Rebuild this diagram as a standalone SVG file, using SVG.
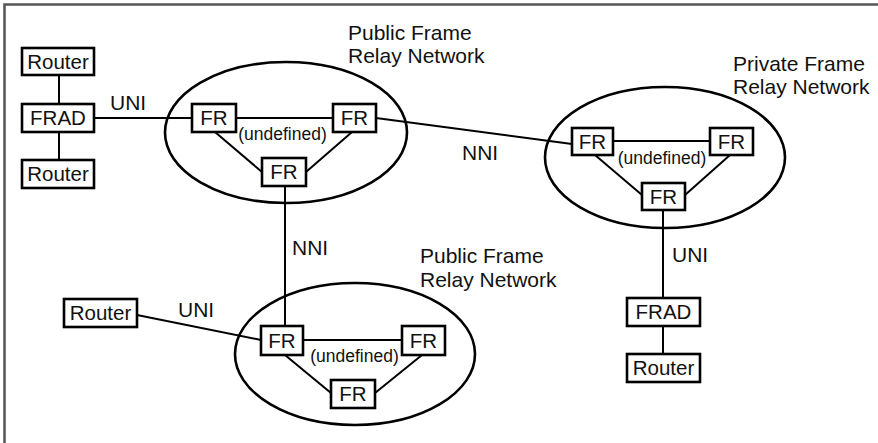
<svg xmlns="http://www.w3.org/2000/svg" width="878" height="443" viewBox="0 0 878 443">
  <style>
    .frame { fill: none; stroke: #555; stroke-width: 2.5; }
    .box { fill: #fff; stroke: #000; stroke-width: 2.6; }
    .cloud { fill: none; stroke: #000; stroke-width: 2.6; }
    .link { fill: none; stroke: #000; stroke-width: 2; }
    text { font-family: "Liberation Sans", Arial, sans-serif; fill: #111; }
    .lbl { font-size: 20.5px; text-anchor: middle; }
    .tag { font-size: 21px; }
    .undef { font-size: 17.5px; text-anchor: middle; }
  </style>
  <rect width="878" height="443" fill="#fff"/>
  <path class="frame" d="M4.5,443 V4.5 H878"/>

  <!-- network clouds -->
  <g id="net-public-top">
    <ellipse class="cloud" cx="286" cy="132.5" rx="121" ry="70.5"/>
    <text class="tag" x="348" y="40">Public Frame</text>
    <text class="tag" x="348" y="63">Relay Network</text>
  </g>
  <g id="net-private">
    <ellipse class="cloud" cx="665" cy="157.5" rx="120" ry="70.5"/>
    <text class="tag" x="733" y="71">Private Frame</text>
    <text class="tag" x="733" y="94">Relay Network</text>
  </g>
  <g id="net-public-bottom">
    <ellipse class="cloud" cx="355" cy="354" rx="120" ry="71"/>
    <text class="tag" x="420" y="263">Public Frame</text>
    <text class="tag" x="420" y="287">Relay Network</text>
  </g>

  <!-- connectors -->
  <g id="connectors">
    <line class="link" x1="59" y1="75" x2="59" y2="104"/>
    <line class="link" x1="59" y1="132" x2="59" y2="160"/>
    <line class="link" x1="94" y1="118" x2="192" y2="118"/>
    <line class="link" x1="236" y1="118" x2="333" y2="118"/>
    <line class="link" x1="215" y1="132" x2="262" y2="172"/>
    <line class="link" x1="352" y1="132" x2="306" y2="172"/>
    <line class="link" x1="376" y1="118" x2="572" y2="144"/>
    <line class="link" x1="285" y1="186" x2="285" y2="326"/>
    <line class="link" x1="613" y1="141" x2="710" y2="141"/>
    <line class="link" x1="595" y1="155" x2="642" y2="195"/>
    <line class="link" x1="730" y1="155" x2="685" y2="195"/>
    <line class="link" x1="663" y1="210" x2="663" y2="298"/>
    <line class="link" x1="663" y1="326" x2="663" y2="354"/>
    <line class="link" x1="137" y1="315" x2="261" y2="340"/>
    <line class="link" x1="303" y1="340" x2="402" y2="340"/>
    <line class="link" x1="285" y1="355" x2="331" y2="393"/>
    <line class="link" x1="422" y1="355" x2="375" y2="393"/>
    <text class="tag" x="110" y="110">UNI</text>
    <text class="tag" x="462" y="160">NNI</text>
    <text class="tag" x="292" y="255">NNI</text>
    <text class="tag" x="178" y="317">UNI</text>
    <text class="tag" x="672" y="262">UNI</text>
    <text class="undef" x="282.5" y="140">(undefined)</text>
    <text class="undef" x="662" y="164">(undefined)</text>
    <text class="undef" x="354.5" y="362">(undefined)</text>
  </g>

  <!-- left site -->
  <g id="router-left-top">
    <rect class="box" x="22" y="48" width="72" height="27"/>
    <text class="lbl" x="58" y="68.5">Router</text>
  </g>
  <g id="frad-left">
    <rect class="box" x="22" y="104" width="72" height="28"/>
    <text class="lbl" x="58" y="125">FRAD</text>
  </g>
  <g id="router-left-bottom">
    <rect class="box" x="22" y="160" width="72" height="28"/>
    <text class="lbl" x="58" y="181">Router</text>
  </g>

  <!-- public network (top) switches -->
  <g id="fr-top-a">
    <rect class="box" x="192" y="104" width="44" height="28"/>
    <text class="lbl" x="214" y="125">FR</text>
  </g>
  <g id="fr-top-b">
    <rect class="box" x="333" y="104" width="43" height="28"/>
    <text class="lbl" x="354.5" y="125">FR</text>
  </g>
  <g id="fr-top-c">
    <rect class="box" x="262" y="158" width="44" height="28"/>
    <text class="lbl" x="284" y="179">FR</text>
  </g>

  <!-- private network switches -->
  <g id="fr-priv-a">
    <rect class="box" x="572" y="128" width="41" height="27"/>
    <text class="lbl" x="592.5" y="148.5">FR</text>
  </g>
  <g id="fr-priv-b">
    <rect class="box" x="710" y="128" width="43" height="27"/>
    <text class="lbl" x="731.5" y="148.5">FR</text>
  </g>
  <g id="fr-priv-c">
    <rect class="box" x="642" y="183" width="43" height="27"/>
    <text class="lbl" x="663.5" y="203.5">FR</text>
  </g>

  <!-- private site -->
  <g id="frad-right">
    <rect class="box" x="627" y="298" width="73" height="28"/>
    <text class="lbl" x="663.5" y="319">FRAD</text>
  </g>
  <g id="router-right">
    <rect class="box" x="627" y="354" width="73" height="28"/>
    <text class="lbl" x="663.5" y="375">Router</text>
  </g>

  <!-- public network (bottom) switches -->
  <g id="fr-bot-a">
    <rect class="box" x="261" y="326" width="42" height="29"/>
    <text class="lbl" x="282" y="347.5">FR</text>
  </g>
  <g id="fr-bot-b">
    <rect class="box" x="402" y="326" width="43" height="29"/>
    <text class="lbl" x="423.5" y="347.5">FR</text>
  </g>
  <g id="fr-bot-c">
    <rect class="box" x="331" y="380" width="44" height="28"/>
    <text class="lbl" x="353" y="401">FR</text>
  </g>

  <g id="router-bottom-left">
    <rect class="box" x="64" y="299" width="73" height="28"/>
    <text class="lbl" x="100.5" y="320">Router</text>
  </g>
</svg>
